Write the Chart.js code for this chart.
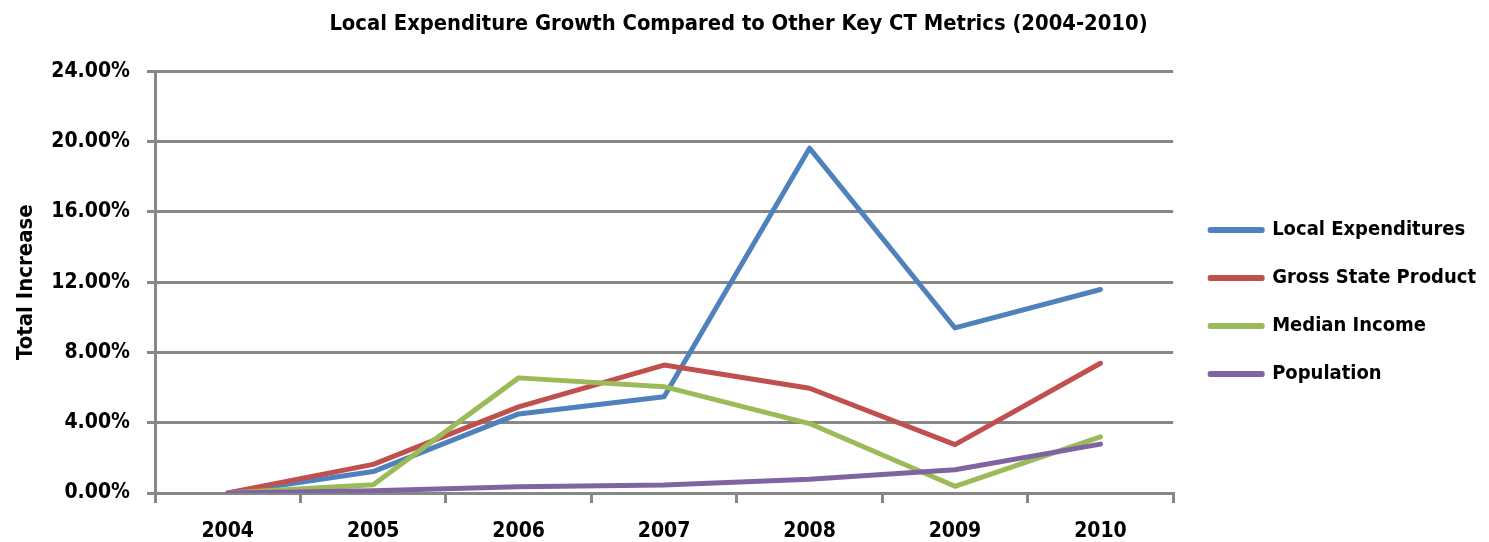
<!DOCTYPE html>
<html>
<head>
<meta charset="utf-8">
<script src="https://cdn.jsdelivr.net/npm/chart.js@4/dist/chart.umd.min.js"></script>
<style>
  html, body { margin: 0; padding: 0; background: #fff; }
  #wrap { width: 1489px; height: 542px; position: relative; }
</style>
</head>
<body>
<div id="wrap"><canvas id="chart"></canvas></div>
<script>
const years = ["2004", "2005", "2006", "2007", "2008", "2009", "2010"];
const localExpenditures = [0, 1.22, 4.5, 5.48, 19.62, 9.39, 11.58];
const grossStateProduct = [0, 1.63, 4.9, 7.28, 5.96, 2.75, 7.38];
const medianIncome = [0, 0.47, 6.55, 6.05, 3.95, 0.38, 3.19];
const population = [0, 0.13, 0.36, 0.45, 0.78, 1.32, 2.78];
const yTicks = [0, 4, 8, 12, 16, 20, 24];

const FONT = "'DejaVu Sans Condensed', 'DejaVu Sans', sans-serif";
const GRID = "#878787";

// excel draws later series on top, chart.js the other way round
function series(label, data, color, order) {
  return {
    label, data, order,
    borderColor: color,
    backgroundColor: color,
    borderWidth: 5,
    pointRadius: 0,
    tension: 0,
    borderCapStyle: "round",
    borderJoinStyle: "round",
  };
}

// nudge the legend box to where excel put it
const legendShift = {
  id: "legendShift",
  afterLayout(chart) {
    const lg = chart.legend;
    if (!lg) return;
    const dx = 9, dy = 31;
    lg.left += dx; lg.right += dx;
    lg.top += dy; lg.bottom += dy;
  },
};

new Chart(document.getElementById("chart"), {
  type: "line",
  data: {
    labels: years,
    datasets: [
      series("Local Expenditures", localExpenditures, "#4F81BD", 4),
      series("Gross State Product", grossStateProduct, "#C0504D", 3),
      series("Median Income", medianIncome, "#9BBB59", 2),
      series("Population", population, "#8064A2", 1),
    ],
  },
  plugins: [legendShift],
  options: {
    responsive: true,
    maintainAspectRatio: false,
    animation: false,
    layout: { padding: { left: 0, right: 12, top: 0, bottom: 0 } },
    plugins: {
      tooltip: { enabled: false },
      title: {
        display: true,
        text: "Local Expenditure Growth Compared to Other Key CT Metrics (2004-2010)",
        color: "#000",
        font: { family: FONT, size: 21.8, weight: "bold" },
        padding: { top: 11, bottom: 34 },
      },
      legend: {
        position: "right",
        labels: {
          sort: (a, b) => a.datasetIndex - b.datasetIndex,
          color: "#000",
          font: { family: FONT, size: 20, weight: "bold" },
          boxWidth: 52,
          boxHeight: 1,
          padding: 28,
        },
      },
    },
    scales: {
      x: {
        offset: true,
        afterFit: (s) => { s.height = 49; },
        grid: {
          offset: true,
          drawOnChartArea: false,
          drawTicks: true,
          tickLength: 10,
          color: GRID,
          lineWidth: 3,
        },
        border: { display: true, color: GRID, width: 3 },
        ticks: {
          color: "#000",
          font: { family: FONT, size: 21, weight: "bold" },
          padding: 16,
          maxRotation: 0,
        },
      },
      y: {
        min: yTicks[0],
        max: yTicks[yTicks.length - 1],
        afterFit: (s) => { s.width = 155; },
        afterBuildTicks: (axis) => { axis.ticks = yTicks.map((v) => ({ value: v })); },
        grid: {
          color: GRID,
          lineWidth: 3,
          tickLength: 8,
        },
        border: { display: true, color: GRID, width: 3 },
        ticks: {
          color: "#000",
          font: { family: FONT, size: 21, weight: "bold" },
          padding: 17,
          callback: (v) => v.toFixed(2) + "%",
        },
        title: {
          display: true,
          text: "Total Increase",
          color: "#000",
          font: { family: FONT, size: 22, weight: "bold" },
          padding: { top: 13, bottom: 14 },
        },
      },
    },
  },
});
</script>
</body>
</html>
